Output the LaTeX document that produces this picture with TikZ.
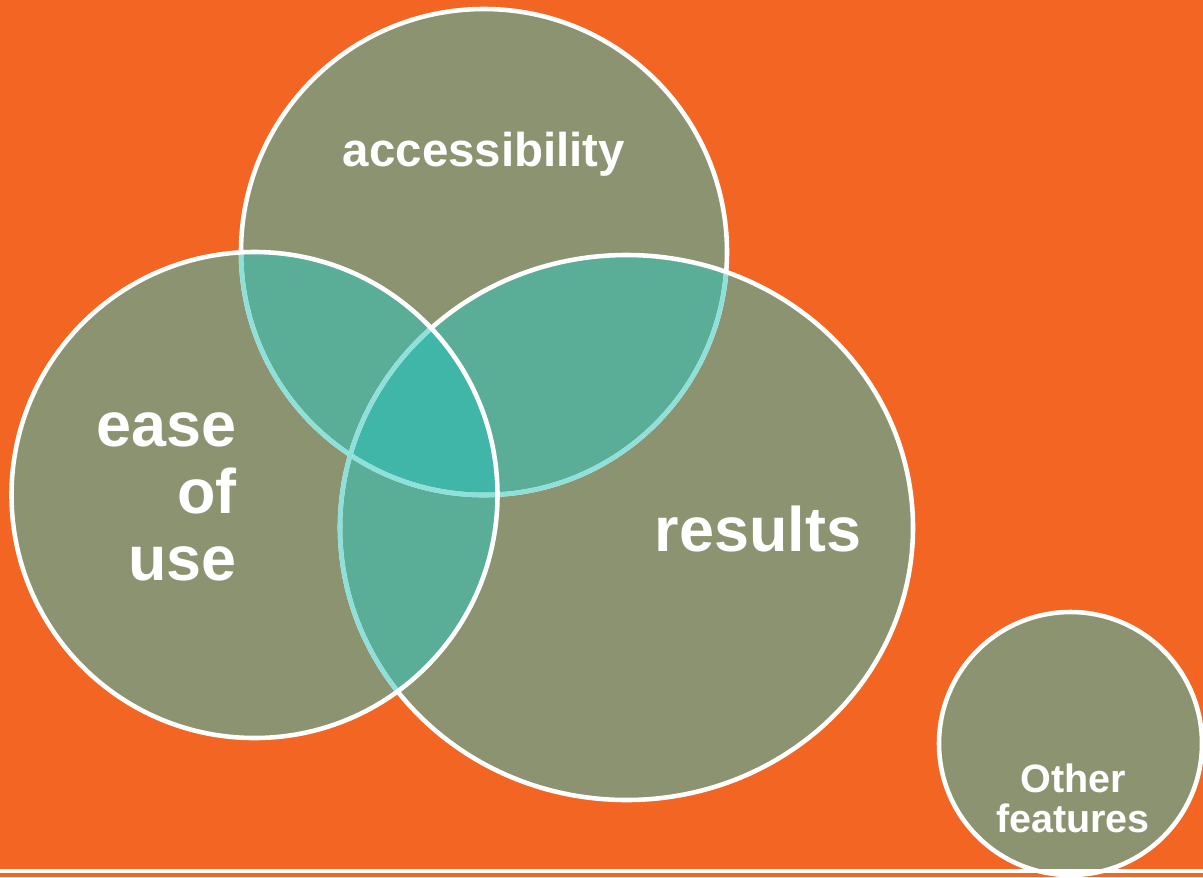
\documentclass[tikz,border=0pt]{standalone}
\usepackage{fontspec}
\setmainfont{Liberation Sans}
\usetikzlibrary{positioning}

\definecolor{bgorange}{HTML}{F36523}
\definecolor{venngreen}{HTML}{8C9370}
\definecolor{overlap}{HTML}{5AAE97}
\definecolor{core}{HTML}{3FB6A8}
\definecolor{innerline}{HTML}{8EE0D8}

% the three sets and the extra one
\newcommand{\accset}{(484,252) circle (243)}
\newcommand{\easeset}{(254.5,495) circle (243)}
\newcommand{\resset}{(626.5,527.5) ellipse (286.5 and 272.5)}
\newcommand{\otherset}{(1070.5,743.5) circle (131.5)}

\tikzset{
   setfill/.style  = {fill=venngreen},
   setedge/.style  = {draw=white, line width=2.6pt},
   inneredge/.style= {draw=innerline, line width=2.6pt},
   setlabel/.style = {text=white, font=\bfseries, inner sep=0pt},
}

\begin{document}
\begin{tikzpicture}[x=0.02cm, y=-0.02cm]
   \useasboundingbox (0,0) rectangle (1203,877);
   \fill[bgorange] (0,0) rectangle (1203,877);

   % set areas
   \fill[setfill] \accset;
   \fill[setfill] \resset;
   \fill[setfill] \easeset;

   % pairwise overlaps
   \begin{scope}
      \clip \accset;
      \fill[overlap] \easeset;
      \fill[overlap] \resset;
   \end{scope}
   \begin{scope}
      \clip \easeset;
      \fill[overlap] \resset;
   \end{scope}
   % all three
   \begin{scope}
      \clip \accset;
      \clip \easeset;
      \fill[core] \resset;
   \end{scope}

   % borders, lowest set first
   \draw[setedge] \accset;
   \begin{scope}
      \clip \easeset;
      \draw[inneredge] \accset;
   \end{scope}
   \begin{scope}
      \clip \resset;
      \draw[inneredge] \accset;
   \end{scope}
   \draw[setedge] \resset;
   \begin{scope}
      \clip \easeset;
      \draw[inneredge] \resset;
   \end{scope}
   \draw[setedge] \easeset;

   % other features
   \fill[setfill] \otherset;
   \draw[setedge] \otherset;

   % bottom rule
   \fill[white] (0,868.5) rectangle (1203,872.5);

   % labels
   \node[setlabel, font=\bfseries\fontsize{27}{30}\selectfont]
      (acc) at (484,154) {accessibility};
   \node[setlabel, font=\bfseries\fontsize{35.8}{38.2}\selectfont,
      align=right, anchor=east] (ease) at (237,497) {ease\\of\\use};
   \node[setlabel, font=\bfseries\fontsize{35.8}{37.6}\selectfont]
      (res) at (758,529) {results};
   \node[setlabel, font=\bfseries\fontsize{22.5}{22.8}\selectfont,
      align=center] (other) at (1073,798) {Other\\features};
\end{tikzpicture}
\end{document}
